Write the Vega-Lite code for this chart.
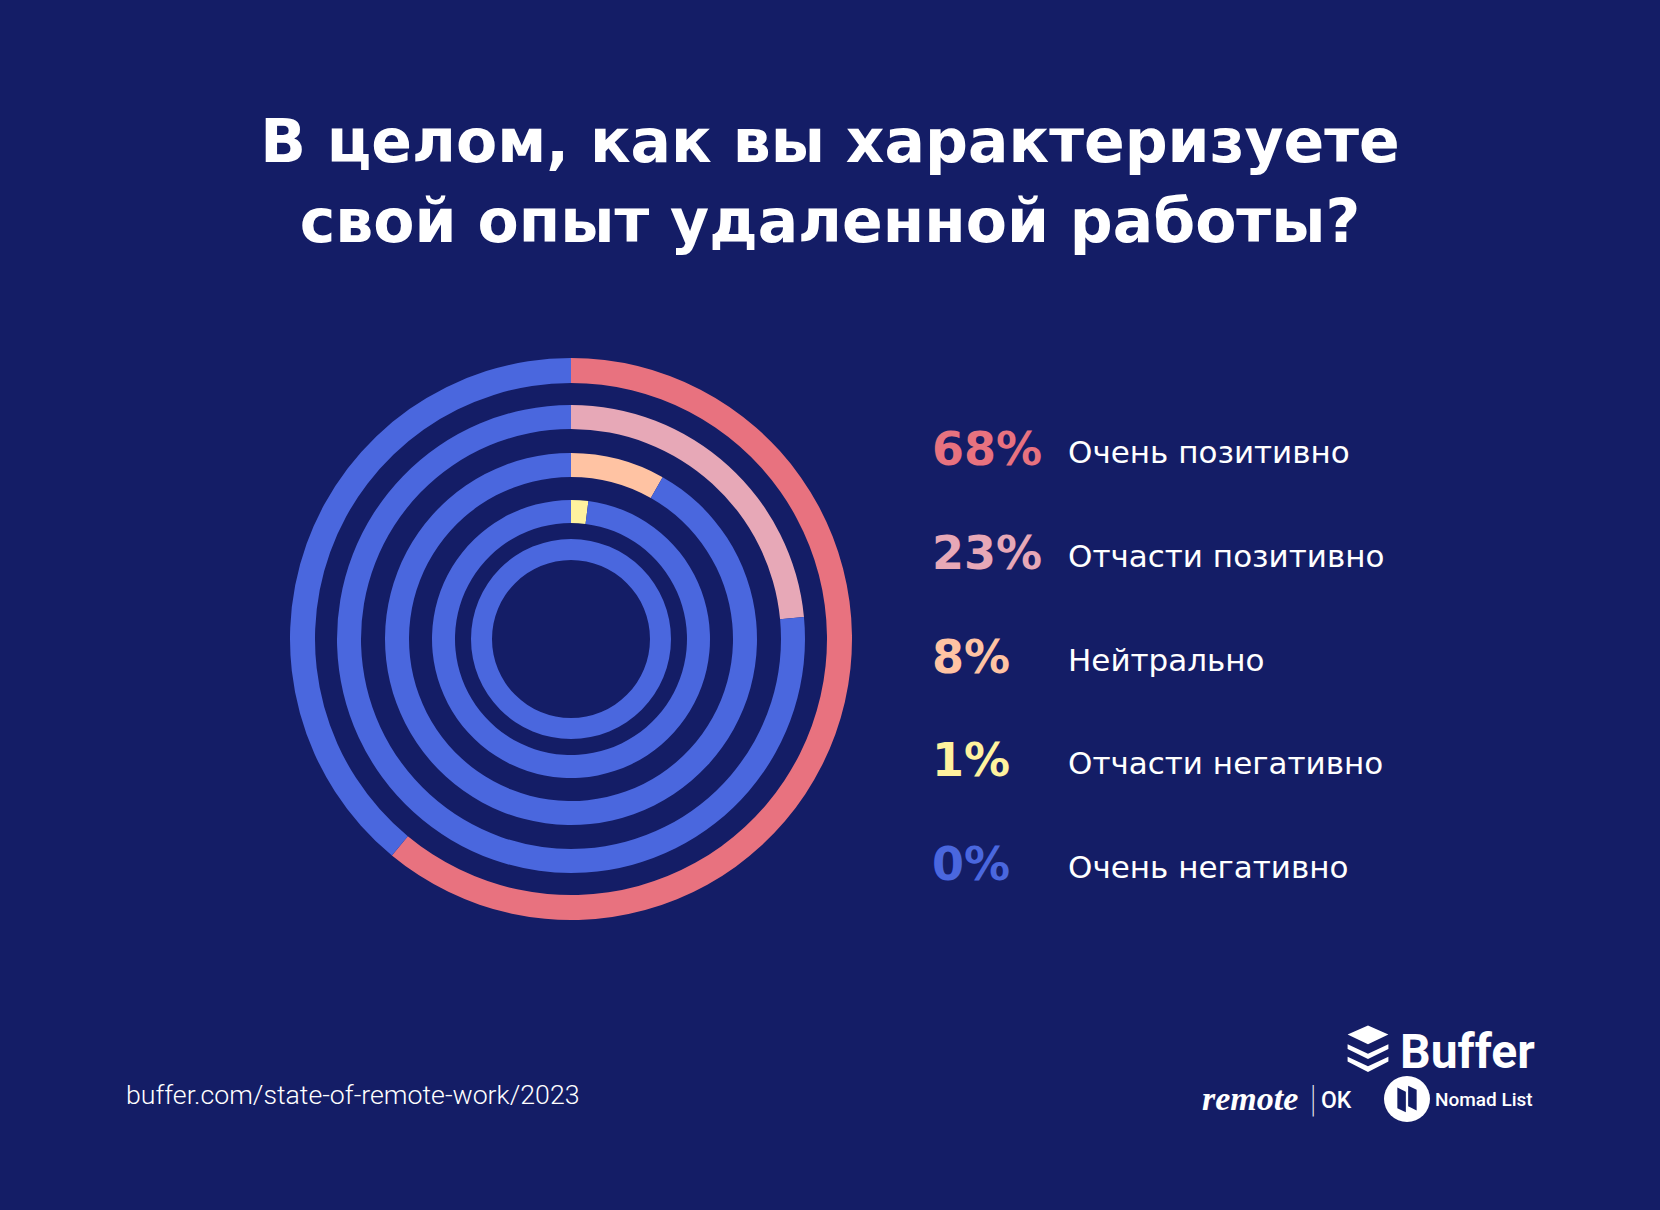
{
  "$schema": "https://vega.github.io/schema/vega-lite/v6.json",
  "width": 1660,
  "height": 1210,
  "autosize": {"type": "fit", "contains": "padding"},
  "padding": {"top": 114, "left": 0, "right": 0, "bottom": 0},
  "background": "#141D66",
  "config": {"view": {"stroke": null}},
  "title": {
    "text": ["В целом, как вы характеризуете", "свой опыт удаленной работы?"],
    "font": "DejaVu Sans",
    "fontWeight": "bold",
    "fontSize": 60,
    "lineHeight": 80,
    "color": "#FFFFFF",
    "anchor": "middle",
    "frame": "group",
    "offset": 6
  },
  "datasets": {
    "rings": [
      {"ring": 1, "seg": 1, "category": "Очень позитивно", "share": 61},
      {"ring": 1, "seg": 2, "category": "Остальные ответы", "share": 39},
      {"ring": 2, "seg": 1, "category": "Отчасти позитивно", "share": 23.5},
      {"ring": 2, "seg": 2, "category": "Остальные ответы", "share": 76.5},
      {"ring": 3, "seg": 1, "category": "Нейтрально", "share": 8.2},
      {"ring": 3, "seg": 2, "category": "Остальные ответы", "share": 91.8},
      {"ring": 4, "seg": 1, "category": "Отчасти негативно", "share": 2},
      {"ring": 4, "seg": 2, "category": "Остальные ответы", "share": 98},
      {"ring": 5, "seg": 1, "category": "Очень негативно", "share": 0},
      {"ring": 5, "seg": 2, "category": "Остальные ответы", "share": 100}
    ],
    "legend": [
      {"category": "Очень позитивно", "pct": 0.68},
      {"category": "Отчасти позитивно", "pct": 0.23},
      {"category": "Нейтрально", "pct": 0.08},
      {"category": "Отчасти негативно", "pct": 0.01},
      {"category": "Очень негативно", "pct": 0.0}
    ]
  },
  "layer": [
    {
      "data": {"name": "rings"},
      "transform": [{"filter": "datum.ring == 1"}],
      "mark": {"type": "arc", "x": 571, "y": 378, "radius": 281, "radius2": 256},
      "encoding": {
        "theta": {"field": "share", "type": "quantitative", "stack": true},
        "order": {"field": "seg"},
        "color": {"field": "category", "type": "nominal", "legend": null,
          "scale": {"domain": ["Очень позитивно", "Отчасти позитивно", "Нейтрально", "Отчасти негативно", "Очень негативно", "Остальные ответы"],
                    "range": ["#E8727F", "#E7A8B7", "#FFC3A3", "#FFF29E", "#4A67DE", "#4A67DE"]}}
      }
    },
    {
      "data": {"name": "rings"},
      "transform": [{"filter": "datum.ring == 2"}],
      "mark": {"type": "arc", "x": 571, "y": 378, "radius": 234, "radius2": 210},
      "encoding": {
        "theta": {"field": "share", "type": "quantitative", "stack": true},
        "order": {"field": "seg"},
        "color": {"field": "category", "type": "nominal", "legend": null}
      }
    },
    {
      "data": {"name": "rings"},
      "transform": [{"filter": "datum.ring == 3"}],
      "mark": {"type": "arc", "x": 571, "y": 378, "radius": 186, "radius2": 162},
      "encoding": {
        "theta": {"field": "share", "type": "quantitative", "stack": true},
        "order": {"field": "seg"},
        "color": {"field": "category", "type": "nominal", "legend": null}
      }
    },
    {
      "data": {"name": "rings"},
      "transform": [{"filter": "datum.ring == 4"}],
      "mark": {"type": "arc", "x": 571, "y": 378, "radius": 139, "radius2": 116},
      "encoding": {
        "theta": {"field": "share", "type": "quantitative", "stack": true},
        "order": {"field": "seg"},
        "color": {"field": "category", "type": "nominal", "legend": null}
      }
    },
    {
      "data": {"name": "rings"},
      "transform": [{"filter": "datum.ring == 5"}],
      "mark": {"type": "arc", "x": 571, "y": 378, "radius": 100, "radius2": 79},
      "encoding": {
        "theta": {"field": "share", "type": "quantitative", "stack": true},
        "order": {"field": "seg"},
        "color": {"field": "category", "type": "nominal", "legend": null}
      }
    },
    {
      "data": {"name": "legend"},
      "mark": {"type": "text", "x": 932, "align": "left", "baseline": "middle", "font": "DejaVu Sans", "fontWeight": "bold", "fontSize": 46, "dy": -3},
      "encoding": {
        "y": {"field": "category", "type": "nominal", "sort": null, "axis": null, "scale": {"range": [193, 608], "padding": 0}},
        "text": {"field": "pct", "type": "quantitative", "format": ".0%"},
        "color": {"field": "category", "type": "nominal", "legend": null}
      }
    },
    {
      "data": {"name": "legend"},
      "mark": {"type": "text", "x": 1068, "align": "left", "baseline": "middle", "font": "DejaVu Sans", "fontSize": 31, "color": "#FFFFFF"},
      "encoding": {
        "y": {"field": "category", "type": "nominal", "sort": null, "axis": null},
        "text": {"field": "category", "type": "nominal"}
      }
    },
    {
      "data": {"values": [{"source": "buffer.com/state-of-remote-work/2023"}]},
      "mark": {"type": "text", "x": 126, "y": 835, "align": "left", "baseline": "middle", "font": "Roboto", "fontWeight": 300, "fontSize": 26.7, "color": "#FFFFFF"},
      "encoding": {"text": {"field": "source"}}
    },
    {
      "data": {"values": [{"brand": "Buffer"}]},
      "mark": {"type": "text", "x": 1400, "y": 807, "align": "left", "baseline": "alphabetic", "font": "Roboto", "fontWeight": "bold", "fontSize": 48, "color": "#FFFFFF"},
      "encoding": {"text": {"field": "brand"}}
    },
    {
      "data": {"values": [{"brand": "Buffer"}]},
      "mark": {"type": "point", "x": 1368, "y": 788, "filled": true, "opacity": 1, "color": "#FFFFFF", "size": 2304,
        "shape": "M0,-0.98 L0.85,-0.6 L0,-0.2 L-0.85,-0.6 Z M-0.85,-0.2 L0,0.2 L0.85,-0.2 L0.85,0 L0,0.42 L-0.85,0 Z M-0.85,0.32 L0,0.72 L0.85,0.32 L0.85,0.52 L0,0.96 L-0.85,0.52 Z"},
      "encoding": {}
    },
    {
      "data": {"values": [{"brand": "remote"}]},
      "mark": {"type": "text", "x": 1202, "y": 839, "align": "left", "baseline": "middle", "font": "Liberation Serif", "fontStyle": "italic", "fontWeight": "bold", "fontSize": 34, "color": "#FFFFFF"},
      "encoding": {"text": {"field": "brand"}}
    },
    {
      "data": {"values": [{"brand": "|"}]},
      "mark": {"type": "text", "x": 1313, "y": 839, "align": "center", "baseline": "middle", "font": "Roboto", "fontWeight": 100, "fontSize": 36, "color": "#FFFFFF"},
      "encoding": {"text": {"field": "brand"}}
    },
    {
      "data": {"values": [{"brand": "OK"}]},
      "mark": {"type": "text", "x": 1321, "y": 840, "align": "left", "baseline": "middle", "font": "Roboto", "fontWeight": 500, "fontSize": 23, "color": "#FFFFFF"},
      "encoding": {"text": {"field": "brand"}}
    },
    {
      "data": {"values": [{"brand": "Nomad List"}]},
      "mark": {"type": "point", "x": 1407, "y": 838, "filled": true, "opacity": 1, "color": "#FFFFFF", "size": 2116, "shape": "circle"},
      "encoding": {}
    },
    {
      "data": {"values": [{"brand": "Nomad List"}]},
      "mark": {"type": "point", "x": 1407, "y": 838, "filled": true, "opacity": 1, "color": "#141D66", "size": 2116,
        "shape": "M-0.42,-0.5 L-0.05,-0.32 L-0.05,0.58 L-0.42,0.4 Z M0.05,-0.58 L0.42,-0.4 L0.42,0.5 L0.05,0.32 Z"},
      "encoding": {}
    },
    {
      "data": {"values": [{"brand": "Nomad List"}]},
      "mark": {"type": "text", "x": 1435, "y": 839, "align": "left", "baseline": "middle", "font": "Roboto", "fontWeight": 500, "fontSize": 19, "color": "#FFFFFF"},
      "encoding": {"text": {"field": "brand"}}
    }
  ]
}
